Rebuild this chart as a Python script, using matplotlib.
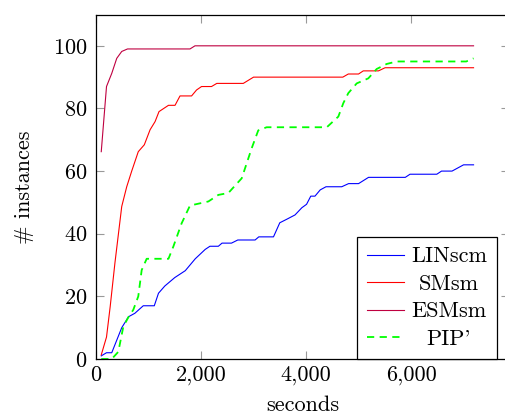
import matplotlib
matplotlib.use("Agg")
import matplotlib.pyplot as plt
from matplotlib.ticker import FuncFormatter, MultipleLocator

plt.rcParams['font.family'] = ['cmr10', 'DejaVu Serif']
plt.rcParams['mathtext.fontset'] = 'cm'
plt.rcParams['axes.formatter.use_mathtext'] = True

lin_x = [100, 200, 300, 490, 620, 740, 900, 1110, 1190, 1310, 1500, 1700, 1890, 2080, 2170, 2330, 2400, 2580, 2700, 3030, 3100, 3380, 3500, 3630, 3790, 3920, 4010, 4090, 4170, 4270, 4380, 4680, 4810, 5000, 5190, 5890, 5980, 6490, 6580, 6780, 7000, 7190]
lin_y = [1, 2, 2, 10, 13.5, 14.6, 17, 17, 21, 23.3, 26, 28.2, 32, 35, 36, 36, 37, 37, 38, 38, 39, 39, 43.5, 44.6, 46, 48.3, 49.4, 52, 52, 54, 55, 55, 56, 56, 58, 58, 59, 59, 60, 60, 62, 62]

sm_x = [100, 200, 270, 360, 490, 585, 680, 805, 920, 1030, 1125, 1200, 1380, 1505, 1600, 1820, 1915, 2010, 2200, 2300, 2805, 3000, 4700, 4805, 5000, 5090, 5380, 5505, 7190]
sm_y = [1.3, 7, 16.7, 30.6, 48.7, 55, 60, 66.2, 68.4, 73.2, 75.8, 79, 81, 81, 84, 84, 85.9, 87, 87, 88, 88, 90, 90, 91, 91, 92, 92, 93, 93]

esm_x = [100, 200, 300, 395, 490, 600, 1790, 1885, 7190]
esm_y = [66.2, 87, 91.2, 96, 98.2, 99, 99, 100, 100]

pip_x = [100, 300, 425, 520, 615, 710, 805, 870, 965, 1380, 1475, 1630, 1790, 2140, 2330, 2520, 2775, 2965, 3090, 3250, 4395, 4615, 4710, 4805, 4965, 5185, 5345, 5535, 5725, 7050, 7190]
pip_y = [0, 0, 2.3, 10.3, 13.3, 15.7, 20, 28.4, 32, 32, 36, 43.3, 49, 50.3, 52.4, 53, 57.7, 67.3, 73, 74, 74, 77.4, 81.7, 84.9, 88, 89.6, 92.6, 94.2, 95, 95, 96]

labels = ['LINscm', 'SMsm', 'ESMsm', "PIP'"]
colors = ['#0000FF', '#FF0000', '#BF0040', '#00FF00']

FS = 16
fig = plt.figure(figsize=(5.05, 4.17), dpi=100)
# right spine lies just beyond the image edge, as in the reference
ax = fig.add_axes([96/505, 58/417, 413/505, 344.5/417])

ax.plot(lin_x, lin_y, color=colors[0], lw=0.8, label=labels[0])
ax.plot(sm_x, sm_y, color=colors[1], lw=0.8, label=labels[1])
ax.plot(esm_x, esm_y, color=colors[2], lw=0.8, label=labels[2])
ax.plot(pip_x, pip_y, color=colors[3], lw=1.3, ls=(0, (4, 3)), label=labels[3])

ax.set_xlim(0, 7865)
ax.set_ylim(0, 110)
ax.xaxis.set_major_locator(MultipleLocator(2000))
ax.yaxis.set_major_locator(MultipleLocator(20))
ax.xaxis.set_major_formatter(FuncFormatter(lambda v, p: f"{v:,.0f}"))
ax.tick_params(direction='in', top=True, right=True, length=6, width=0.8,
               color='#999999', labelsize=FS)
ax.tick_params(axis='y', pad=6)
ax.tick_params(axis='x', pad=5)
for s in ax.spines.values():
    s.set_linewidth(0.9)
    s.set_color('black')

ax.set_xlabel('seconds', fontsize=FS, labelpad=7)
ax.set_ylabel('# instances', fontsize=FS, labelpad=14)

# legend right edge at ~497 px, bottom on the axis
leg_right = (497 - 96) / 413
leg = ax.legend(loc='lower right', bbox_to_anchor=(leg_right, 0.0), fontsize=FS,
                frameon=True, fancybox=False, edgecolor='black', framealpha=1,
                borderaxespad=0.0, handlelength=1.7, handletextpad=0.3,
                labelspacing=0.36, borderpad=0.45)
leg.get_frame().set_linewidth(0.9)

# center the legend texts like pgfplots does
fig.canvas.draw()
r = fig.canvas.get_renderer()
widths = [t.get_window_extent(r).width for t in leg.get_texts()]
wmax = max(widths)
for t, w in zip(leg.get_texts(), widths):
    t.set_x((wmax - w) / 2)

fig.savefig('out.png', dpi=100)
